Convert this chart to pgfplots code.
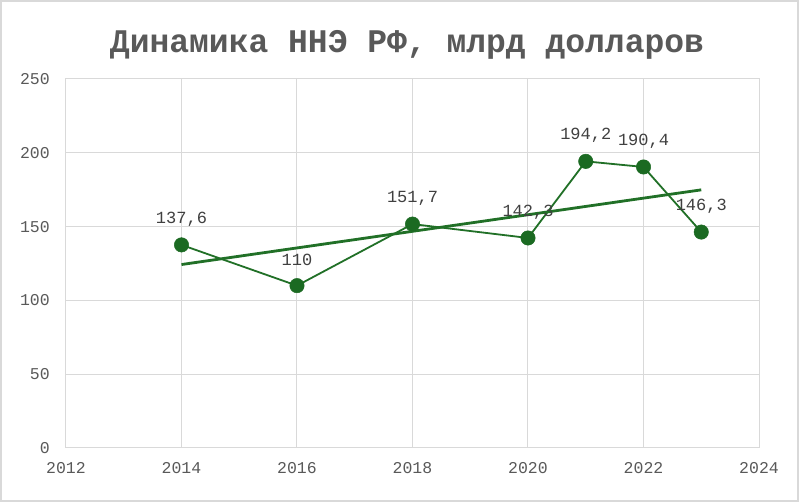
\documentclass[border=0pt]{standalone}
\usepackage{fontspec}
\setmainfont{Liberation Mono}
\usepackage{pgfplots}
\pgfplotsset{compat=1.18}
\definecolor{gridc}{HTML}{D9D9D9}
\definecolor{tickc}{HTML}{595959}
\definecolor{labc}{HTML}{404040}
\definecolor{lineg}{HTML}{217027}
\definecolor{markg}{HTML}{1B6A22}
\begin{document}
\begin{tikzpicture}[x=1pt,y=1pt]
\useasboundingbox (0,0) rectangle (799,502);
\fill[white] (0,0) rectangle (799,502);
\draw[gridc, line width=2pt] (1,1) rectangle (798,501);
\node[font=\fontsize{33}{36}\selectfont\bfseries, text=tickc] at (407,457) {Динамика ННЭ РФ, млрд долларов};
\begin{axis}[
  at={(66pt,54pt)}, anchor=south west,
  scale only axis, width=693pt, height=369pt,
  xmin=2012, xmax=2024, ymin=0, ymax=250,
  xtick={2012,2014,...,2024}, ytick={0,50,...,250},
  grid=major, major grid style={draw=gridc, line width=1pt},
  axis line style={draw=gridc, line width=1pt},
  major tick length=0pt,
  /pgf/number format/assume math mode=true,
  tick label style={font=\fontsize{16.5}{18}\selectfont, text=tickc},
  xticklabel style={/pgf/number format/1000 sep=, anchor=center, yshift=-20pt},
  yticklabel style={anchor=east, inner sep=0pt, xshift=-16pt},
  clip=false,
]
\addplot[lineg, line width=2.8pt] coordinates {(2014,124.3) (2023,174.9)};
\addplot[lineg, line width=1.8pt, mark=*, mark size=7.2pt,
  mark options={fill=markg, draw=markg, line width=0.5pt},
  nodes near coords,
  nodes near coords style={font=\fontsize{17}{18}\selectfont, text=labc, anchor=center, yshift=26pt,
    /pgf/number format/use comma, /pgf/number format/fixed, /pgf/number format/precision=1, /pgf/number format/assume math mode=true},
] coordinates {
  (2014,137.6) (2016,110) (2018,151.7) (2020,142.3) (2021,194.2) (2022,190.4) (2023,146.3)
};
\end{axis}
\end{tikzpicture}
\end{document}
